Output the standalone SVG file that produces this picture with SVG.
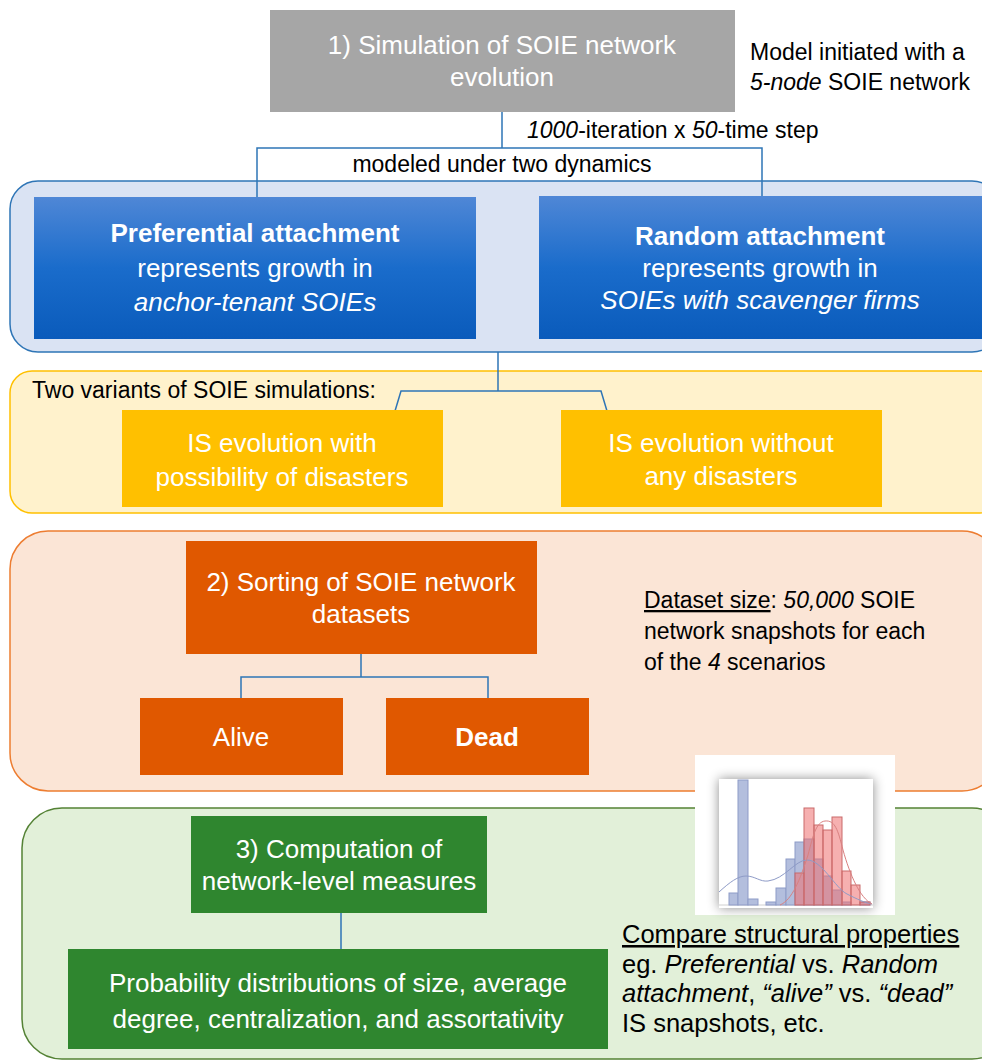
<svg xmlns="http://www.w3.org/2000/svg" width="982" height="1061" viewBox="0 0 982 1061">
<defs>
<linearGradient id="blueGrad" x1="0" y1="0" x2="0" y2="1">
<stop offset="0" stop-color="#4F87D6"/>
<stop offset="0.5" stop-color="#1A6CCB"/>
<stop offset="1" stop-color="#0A5BBB"/>
</linearGradient>
<filter id="sh" x="-25%" y="-25%" width="150%" height="150%">
<feDropShadow dx="0" dy="0" stdDeviation="6" flood-color="#000" flood-opacity="0.45"/>
</filter>
<style>
.box{font-family:"Liberation Sans",Arial,sans-serif;font-size:26px;fill:#fff;text-anchor:middle}
.side{font-family:"Liberation Sans",Arial,sans-serif;font-size:23px;fill:#000}
.cmp{font-family:"Liberation Sans",Arial,sans-serif;font-size:25.5px;fill:#000}
.con{fill:none;stroke:#2E75B6;stroke-width:1.5}
.bb{fill:#B3BEDD;stroke:#8E9BC7;stroke-width:1}
.rb{fill:#EE7070;fill-opacity:0.55;stroke:#C96A6A;stroke-width:1}
</style>
</defs>
<rect width="982" height="1061" fill="#fff"/>

<g id="containers">
<rect id="blue-container" x="10" y="181" width="990" height="171" rx="28" fill="#DAE3F3" stroke="#2E75B6" stroke-width="1.5"/>
<rect id="yellow-container" x="10" y="371" width="990" height="142" rx="22" fill="#FFF2CC" stroke="#FFC000" stroke-width="1.5"/>
<rect id="orange-container" x="10" y="531" width="990" height="260" rx="38" fill="#FBE5D6" stroke="#ED7D31" stroke-width="1.5"/>
<rect id="green-container" x="22" y="808" width="990" height="251" rx="40" fill="#E2F0D9" stroke="#548235" stroke-width="1.5"/>
</g>

<g id="connectors">
<path class="con" d="M502 112 V148 M257 197 V148 H762 V197"/>
<path class="con" d="M498 352 V391"/>
<path class="con" stroke-width="3" d="M395 411 L401 391 H601 L607 411"/>
<path class="con" d="M361 654 V677 M241 698 V677 H488 V698"/>
<path class="con" d="M341 913 V949"/>
</g>

<g id="node-sim">
<rect x="270" y="10" width="465" height="102" fill="#A6A6A6"/>
<text class="box" x="502" y="54">1) Simulation of SOIE network</text>
<text class="box" x="502" y="86">evolution</text>
</g>

<g id="label-model">
<text class="side" x="750" y="60">Model initiated with a</text>
<text class="side" x="750" y="90"><tspan font-style="italic">5-node</tspan> SOIE network</text>
</g>

<g id="label-iter">
<text class="side" x="527" y="138"><tspan font-style="italic">1000</tspan>-iteration x <tspan font-style="italic">50</tspan>-time step</text>
</g>

<g id="label-dyn">
<text class="side" x="502" y="172" text-anchor="middle">modeled under two dynamics</text>
</g>

<g id="node-pref">
<rect x="34" y="197" width="442" height="142" fill="url(#blueGrad)"/>
<text class="box" x="255" y="242" font-weight="bold">Preferential attachment</text>
<text class="box" x="255" y="277">represents growth in</text>
<text class="box" x="255" y="311" font-style="italic">anchor-tenant SOIEs</text>
</g>

<g id="node-rand">
<rect x="539" y="196" width="460" height="143" fill="url(#blueGrad)"/>
<text class="box" x="760" y="245" font-weight="bold">Random attachment</text>
<text class="box" x="760" y="277">represents growth in</text>
<text class="box" x="760" y="309" font-style="italic">SOIEs with scavenger firms</text>
</g>

<g id="label-variants">
<text class="side" x="32" y="398">Two variants of SOIE simulations:</text>
</g>

<g id="node-with">
<rect x="122" y="410" width="321" height="97" fill="#FFC000"/>
<text class="box" x="282" y="452">IS evolution with</text>
<text class="box" x="282" y="486">possibility of disasters</text>
</g>

<g id="node-without">
<rect x="561" y="410" width="321" height="97" fill="#FFC000"/>
<text class="box" x="721" y="452">IS evolution without</text>
<text class="box" x="721" y="485">any disasters</text>
</g>

<g id="node-sort">
<rect x="186" y="541" width="351" height="113" fill="#E05800"/>
<text class="box" x="361" y="591">2) Sorting of SOIE network</text>
<text class="box" x="361" y="623">datasets</text>
</g>

<g id="node-alive">
<rect x="140" y="698" width="203" height="77" fill="#E05800"/>
<text class="box" x="241" y="746">Alive</text>
</g>

<g id="node-dead">
<rect x="386" y="698" width="203" height="77" fill="#E05800"/>
<text class="box" x="487" y="746" font-weight="bold">Dead</text>
</g>

<g id="label-dataset">
<text class="side" x="644" y="608"><tspan text-decoration="underline">Dataset size</tspan>: <tspan font-style="italic">50,000</tspan> SOIE</text>
<text class="side" x="644" y="639">network snapshots for each</text>
<text class="side" x="644" y="670">of the <tspan font-style="italic">4</tspan> scenarios</text>
</g>

<g id="histogram">
<rect x="695" y="755" width="200" height="160" fill="#fff"/>
<rect x="719" y="779" width="154" height="129" fill="#fff" filter="url(#sh)"/>
<line x1="719" y1="905" x2="873" y2="905" stroke="#D0D0D0" stroke-width="1"/>
<rect class="bb" x="729" y="893" width="9" height="12"/>
<rect class="bb" x="738" y="780" width="10" height="125"/>
<rect class="bb" x="748" y="899" width="10" height="6"/>
<rect class="bb" x="766" y="902" width="10" height="3"/>
<rect class="bb" x="776" y="888" width="10" height="17"/>
<rect class="bb" x="786" y="859" width="9" height="46"/>
<rect class="bb" x="795" y="842" width="9" height="63"/>
<rect class="bb" x="804" y="839" width="10" height="66"/>
<rect class="bb" x="814" y="859" width="9" height="46"/>
<rect class="bb" x="823" y="876" width="9" height="29"/>
<rect class="bb" x="832" y="890" width="10" height="15"/>
<rect class="bb" x="842" y="902" width="9" height="3"/>
<rect class="bb" x="860" y="902" width="10" height="3"/>
<rect class="rb" x="795" y="873" width="9" height="32"/>
<rect class="rb" x="804" y="808" width="10" height="97"/>
<rect class="rb" x="814" y="825" width="9" height="80"/>
<rect class="rb" x="823" y="830" width="9" height="75"/>
<rect class="rb" x="832" y="817" width="10" height="88"/>
<rect class="rb" x="842" y="871" width="9" height="34"/>
<rect class="rb" x="851" y="885" width="9" height="20"/>
<rect class="rb" x="860" y="902" width="10" height="3"/>
<path d="M719 892 C730 882 738 876 746 876 C755 876 760 882 768 881 C785 879 795 860 807 860 C822 860 835 888 847 894 C857 899 865 903 872 904" fill="none" stroke="#8E9BC7" stroke-width="1"/>
<path d="M780 905 C792 900 800 880 808 855 C813 836 816 822 825 821 C835 820 838 830 843 850 C850 875 860 898 872 904" fill="none" stroke="#D98080" stroke-width="1"/>
</g>

<g id="node-comp">
<rect x="191" y="816" width="296" height="97" fill="#2F862F"/>
<text class="box" x="339" y="858">3) Computation of</text>
<text class="box" x="339" y="890">network-level measures</text>
</g>

<g id="node-prob">
<rect x="68" y="949" width="540" height="100" fill="#2F862F"/>
<text class="box" x="338" y="992">Probability distributions of size, average</text>
<text class="box" x="338" y="1028">degree, centralization, and assortativity</text>
</g>

<g id="label-compare">
<text class="cmp" x="622" y="943" text-decoration="underline">Compare structural properties</text>
<text class="cmp" x="622" y="973">eg. <tspan font-style="italic">Preferential</tspan> vs. <tspan font-style="italic">Random</tspan></text>
<text class="cmp" x="622" y="1002"><tspan font-style="italic">attachment</tspan>, <tspan font-style="italic">“alive”</tspan> vs. <tspan font-style="italic">“dead”</tspan></text>
<text class="cmp" x="622" y="1032">IS snapshots, etc.</text>
</g>
</svg>
